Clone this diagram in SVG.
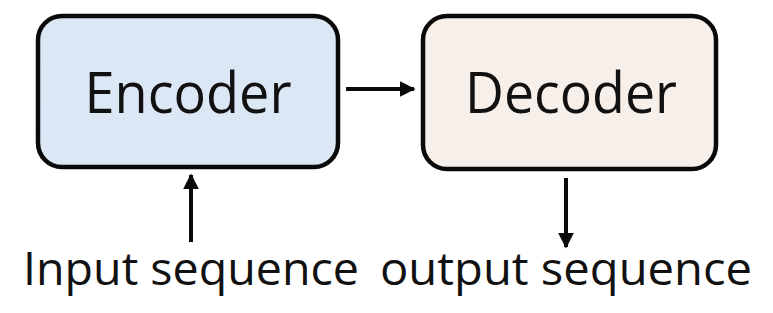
<svg xmlns="http://www.w3.org/2000/svg" width="773" height="313" viewBox="0 0 773 313">
  <style>
    .box { stroke: #0a0a0a; stroke-width: 4.5; }
    .label { font-family: "Open Sans", "Liberation Sans", sans-serif; fill: #111; }
    .edge { stroke: #0a0a0a; stroke-width: 4; fill: none; }
  </style>
  <defs>
    <marker id="arrow" viewBox="0 0 10 10" refX="9" refY="5" markerWidth="4" markerHeight="4" markerUnits="strokeWidth" orient="auto">
      <path d="M0,0 L10,5 L0,10 Z" fill="#0a0a0a"/>
    </marker>
  </defs>
  <rect width="773" height="313" fill="#ffffff"/>

  <g id="encoder">
    <rect class="box" x="38" y="16" width="300" height="151" rx="24" fill="#dbe7f4"/>
    <text class="label" x="188" y="113" font-size="56" text-anchor="middle" textLength="207" lengthAdjust="spacingAndGlyphs">Encoder</text>
  </g>

  <g id="decoder">
    <rect class="box" x="423" y="16" width="293" height="153" rx="24" fill="#f6efea"/>
    <text class="label" x="571" y="113" font-size="56" text-anchor="middle" textLength="212" lengthAdjust="spacingAndGlyphs">Decoder</text>
  </g>

  <g id="input">
    <text class="label" x="191" y="285" font-size="45" text-anchor="middle" textLength="336" lengthAdjust="spacingAndGlyphs">Input sequence</text>
  </g>

  <g id="output">
    <text class="label" x="566" y="285" font-size="45" text-anchor="middle" textLength="372" lengthAdjust="spacingAndGlyphs">output sequence</text>
  </g>

  <g id="connectors">
    <line class="edge" x1="346" y1="89" x2="414" y2="89" marker-end="url(#arrow)"/>
    <line class="edge" x1="191" y1="242" x2="191" y2="175" marker-end="url(#arrow)"/>
    <line class="edge" x1="566" y1="178" x2="566" y2="247" marker-end="url(#arrow)"/>
  </g>
</svg>
